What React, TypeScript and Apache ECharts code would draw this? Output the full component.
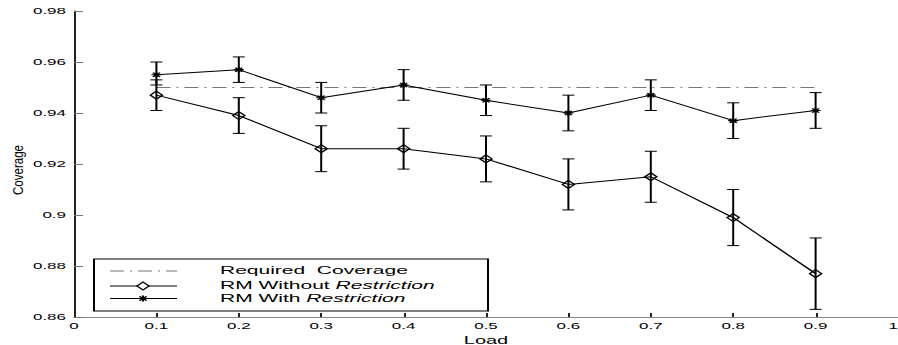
import React, { useEffect, useRef } from "react";
import * as echarts from "echarts";

const loads = [0.1, 0.2, 0.3, 0.4, 0.5, 0.6, 0.7, 0.8, 0.9];
const withRestriction = [0.955, 0.957, 0.946, 0.951, 0.945, 0.94, 0.947, 0.937, 0.941];
const withLow = [0.951, 0.952, 0.94, 0.945, 0.939, 0.933, 0.941, 0.93, 0.934];
const withHigh = [0.96, 0.962, 0.952, 0.957, 0.951, 0.947, 0.953, 0.944, 0.948];
const withoutRestriction = [0.947, 0.939, 0.926, 0.926, 0.922, 0.912, 0.915, 0.899, 0.877];
const withoutLow = [0.941, 0.932, 0.917, 0.918, 0.913, 0.902, 0.905, 0.888, 0.863];
const withoutHigh = [0.953, 0.946, 0.935, 0.934, 0.931, 0.922, 0.925, 0.91, 0.891];
const requiredCoverage = 0.95;
const requiredRange = [0.1, 0.9];
const legendLabels = ["Required  Coverage", "RM Without {i|Restriction}", "RM With {i|Restriction}"];

const FONT = "'Liberation Sans', Arial, Helvetica, sans-serif";
const STAR = "path://M5,0 L5,10 M0,5 L10,5 M1.5,1.5 L8.5,8.5 M1.5,8.5 L8.5,1.5";

function errorBarRender(params: any, api: any) {
  const x = api.value(0);
  const lo = api.coord([x, api.value(1)]);
  const hi = api.coord([x, api.value(2)]);
  const hw = 3;
  const style = { stroke: "#000", lineWidth: 1 };
  return {
    type: "group",
    children: [
      { type: "line", shape: { x1: lo[0], y1: lo[1], x2: hi[0], y2: hi[1] }, style },
      { type: "line", shape: { x1: lo[0] - hw, y1: lo[1], x2: lo[0] + hw, y2: lo[1] }, style },
      { type: "line", shape: { x1: hi[0] - hw, y1: hi[1], x2: hi[0] + hw, y2: hi[1] }, style },
    ],
  };
}

export default function App() {
  const ref = useRef<HTMLDivElement>(null);
  useEffect(() => {
    if (!ref.current) return;
    const chart = echarts.init(ref.current, null, { renderer: "svg" });
    const rows = [271, 286, 298.5];
    const lx1 = 55, lx2 = 88.5, mx = 71.5, tx = 110;
    const richI = { i: { fontStyle: "italic", fontSize: 10.5, fontFamily: FONT, fill: "#000" } };
    chart.setOption({
      animation: false,
      grid: { left: 37, right: 0, top: 11, bottom: 28, outerBoundsMode: "none", containLabel: false },
      xAxis: {
        type: "value",
        min: 0,
        max: 1,
        interval: 0.1,
        name: "Load",
        nameLocation: "middle",
        nameGap: 13,
        nameTextStyle: { fontFamily: FONT, fontSize: 10, color: "#000" },
        axisLine: { show: true, onZero: false, lineStyle: { color: "#888", width: 1 } },
        axisTick: { show: true, inside: true, length: 4, lineStyle: { color: "#222" } },
        axisLabel: { fontFamily: FONT, fontSize: 8.5, color: "#000", margin: 5, alignMaxLabel: "right" },
        splitLine: { show: false },
      },
      yAxis: {
        type: "value",
        min: 0.86,
        max: 0.98,
        interval: 0.02,
        axisLine: { show: true, onZero: false, lineStyle: { color: "#222", width: 1 } },
        axisTick: { show: true, inside: true, length: 4.5, lineStyle: { color: "#777" } },
        axisLabel: { fontFamily: FONT, fontSize: 8.5, color: "#000", margin: 4 },
        splitLine: { show: false },
      },
      series: [
        {
          name: "Required Coverage",
          type: "line",
          data: requiredRange.map((x) => [x, requiredCoverage]),
          symbol: "none",
          lineStyle: { color: "#777", width: 1, type: [7, 3, 1, 3] },
          z: 1,
        },
        {
          name: "RM Without Restriction",
          type: "line",
          data: loads.map((x, i) => [x, withoutRestriction[i]]),
          symbol: "diamond",
          symbolSize: [6, 8],
          showSymbol: true,
          lineStyle: { color: "#000", width: 1 },
          itemStyle: { color: "transparent", borderColor: "#000", borderWidth: 1 },
          z: 3,
        },
        {
          name: "RM With Restriction",
          type: "line",
          data: loads.map((x, i) => [x, withRestriction[i]]),
          symbol: STAR,
          symbolSize: [5, 6],
          showSymbol: true,
          lineStyle: { color: "#000", width: 1 },
          itemStyle: { color: "transparent", borderColor: "#000", borderWidth: 1 },
          z: 3,
        },
        {
          name: "Without errors",
          type: "custom",
          renderItem: errorBarRender,
          data: loads.map((x, i) => [x, withoutLow[i], withoutHigh[i]]),
          z: 2,
        },
        {
          name: "With errors",
          type: "custom",
          renderItem: errorBarRender,
          data: loads.map((x, i) => [x, withLow[i], withHigh[i]]),
          z: 2,
        },
      ],
      graphic: [
        {
          type: "text",
          x: 9,
          y: 170,
          rotation: Math.PI / 2,
          scaleX: 1.65,
          style: {
            text: "Coverage",
            fontFamily: FONT,
            fontSize: 7,
            fill: "#000",
            align: "center",
            verticalAlign: "middle",
          },
        },
        {
          type: "group",
          z: 100,
          children: [
            {
              type: "rect",
              shape: { x: 47, y: 259, width: 197, height: 52 },
              style: { fill: "#fff", stroke: "#000", lineWidth: 1 },
            },
            {
              type: "line",
              shape: { x1: lx1, y1: rows[0], x2: lx2, y2: rows[0] },
              style: { stroke: "#777", lineWidth: 1, lineDash: [7, 3, 1, 3] },
            },
            {
              type: "line",
              shape: { x1: lx1, y1: rows[1], x2: lx2, y2: rows[1] },
              style: { stroke: "#000", lineWidth: 1 },
            },
            {
              type: "polygon",
              shape: { points: [[mx, rows[1] - 4], [mx + 3, rows[1]], [mx, rows[1] + 4], [mx - 3, rows[1]]] },
              style: { fill: "#fff", stroke: "#000", lineWidth: 1 },
            },
            {
              type: "line",
              shape: { x1: lx1, y1: rows[2], x2: lx2, y2: rows[2] },
              style: { stroke: "#000", lineWidth: 1 },
            },
            { type: "line", shape: { x1: mx, y1: rows[2] - 3, x2: mx, y2: rows[2] + 3 }, style: { stroke: "#000", lineWidth: 1 } },
            { type: "line", shape: { x1: mx - 1.8, y1: rows[2] - 2.1, x2: mx + 1.8, y2: rows[2] + 2.1 }, style: { stroke: "#000", lineWidth: 1 } },
            { type: "line", shape: { x1: mx - 1.8, y1: rows[2] + 2.1, x2: mx + 1.8, y2: rows[2] - 2.1 }, style: { stroke: "#000", lineWidth: 1 } },
            ...legendLabels.map((t, i) => ({
              type: "text",
              x: tx,
              y: rows[i],
              style: {
                text: t,
                fontFamily: FONT,
                fontSize: 10.5,
                fill: "#000",
                verticalAlign: "middle",
                rich: richI,
              },
            })),
          ],
        },
      ],
    });
    return () => chart.dispose();
  }, []);
  return (
    <div
      ref={ref}
      style={{
        position: "absolute",
        left: 0,
        top: 0,
        width: 449,
        height: 345,
        transform: "scaleX(2)",
        transformOrigin: "0 0",
        background: "#fff",
      }}
    />
  );
}
